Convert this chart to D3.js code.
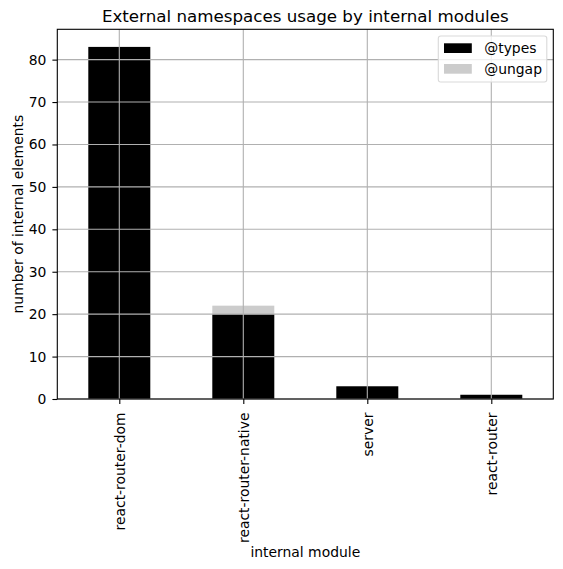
<!DOCTYPE html>
<html>
<head>
<meta charset="utf-8">
<script src="https://cdn.jsdelivr.net/npm/d3@7"></script>
<style>
  body { margin: 0; background: #fff; }
  svg { font-family: "DejaVu Sans", sans-serif; }
</style>
</head>
<body>
<svg id="chart" width="563" height="569"></svg>
<script>
// chart data
const modules = ['react-router-dom', 'react-router-native', 'server', 'react-router'];
const typesCounts = [83, 20, 3, 1];
const ungapCounts = [0, 2, 0, 0];
const seriesNames = ['@types', '@ungap'];
const seriesColors = ['#000000', '#cccccc'];
const yTicks = [0, 10, 20, 30, 40, 50, 60, 70, 80];

const svg = d3.select('#chart');

// plot area
const plotLeft = 57.3, plotRight = 553.3, plotTop = 29.3, plotBottom = 399;
const plotWidth = plotRight - plotLeft;

const xScale = d3.scaleLinear().domain([-0.5, modules.length - 0.5]).range([plotLeft, plotRight]);
const maxTotal = d3.max(modules, (d, i) => typesCounts[i] + ungapCounts[i]);
const yScale = d3.scaleLinear().domain([0, maxTotal * 1.05]).range([plotBottom, plotTop]);

const rows = modules.map((m, i) => ({ module: m, '@types': typesCounts[i], '@ungap': ungapCounts[i] }));
const stacked = d3.stack().keys(seriesNames)(rows);

// bars
const barW = xScale(0.25) - xScale(-0.25);
svg.append('g')
  .selectAll('g')
  .data(stacked)
  .enter()
  .append('g')
  .attr('fill', (d, i) => seriesColors[i])
  .selectAll('rect')
  .data(d => d)
  .enter()
  .append('rect')
  .attr('x', (d, i) => xScale(i) - barW / 2)
  .attr('y', d => yScale(d[1]))
  .attr('width', barW)
  .attr('height', d => yScale(d[0]) - yScale(d[1]));

// grid on top of bars
const grid = svg.append('g').attr('stroke', '#b0b0b0').attr('stroke-width', 1.1);
grid.selectAll('.vg')
  .data(modules)
  .enter()
  .append('line')
  .attr('x1', (d, i) => xScale(i)).attr('x2', (d, i) => xScale(i))
  .attr('y1', plotTop).attr('y2', plotBottom);
grid.selectAll('.hg')
  .data(yTicks)
  .enter()
  .append('line')
  .attr('x1', plotLeft).attr('x2', plotRight)
  .attr('y1', d => yScale(d)).attr('y2', d => yScale(d));

// axes
const yAxis = svg.append('g')
  .attr('transform', `translate(${plotLeft},0)`)
  .call(d3.axisLeft(yScale).tickValues(yTicks).tickSize(4.9).tickPadding(6));

const xAxis = svg.append('g')
  .attr('transform', `translate(0,${plotBottom})`)
  .call(d3.axisBottom(xScale).tickValues(d3.range(modules.length)).tickFormat(i => modules[i]).tickSize(4.9));

[xAxis, yAxis].forEach(a => {
  a.select('.domain').remove();
  a.selectAll('text').attr('font-size', 13.9).attr('fill', '#000').attr('font-family', 'DejaVu Sans');
  a.selectAll('line').attr('stroke', '#000').attr('stroke-width', 1.1);
});

xAxis.selectAll('text')
  .attr('transform', 'rotate(-90)')
  .attr('text-anchor', 'end')
  .attr('x', -13.5)
  .attr('y', 0)
  .attr('dy', '0.35em');

// frame
svg.append('rect')
  .attr('x', plotLeft).attr('y', plotTop)
  .attr('width', plotWidth).attr('height', plotBottom - plotTop)
  .attr('fill', 'none').attr('stroke', '#000').attr('stroke-width', 1.1);

// title and labels
svg.append('text')
  .attr('x', (plotLeft + plotRight) / 2).attr('y', 22)
  .attr('text-anchor', 'middle').attr('font-size', 16.7)
  .text('External namespaces usage by internal modules');

svg.append('text')
  .attr('x', (plotLeft + plotRight) / 2).attr('y', 557)
  .attr('text-anchor', 'middle').attr('font-size', 13.9)
  .text('internal module');

svg.append('text')
  .attr('transform', `translate(22.5,${(plotTop + plotBottom) / 2}) rotate(-90)`)
  .attr('text-anchor', 'middle').attr('font-size', 13.9)
  .text('number of internal elements');

// legend
const legend = svg.append('g').attr('transform', 'translate(438.3,36)');
legend.append('rect')
  .attr('width', 108.5).attr('height', 46)
  .attr('rx', 2.5)
  .attr('fill', '#fff').attr('fill-opacity', 0.8)
  .attr('stroke', '#d9d9d9').attr('stroke-width', 1.1);
seriesNames.forEach((name, i) => {
  legend.append('rect')
    .attr('x', 5.7).attr('y', 7.3 + i * 20.7)
    .attr('width', 27.8).attr('height', 9.7)
    .attr('fill', seriesColors[i]);
  legend.append('text')
    .attr('x', 46).attr('y', 12.2 + i * 20.7)
    .attr('dy', '0.35em')
    .attr('font-size', 13.9)
    .text(name);
});
</script>
</body>
</html>
